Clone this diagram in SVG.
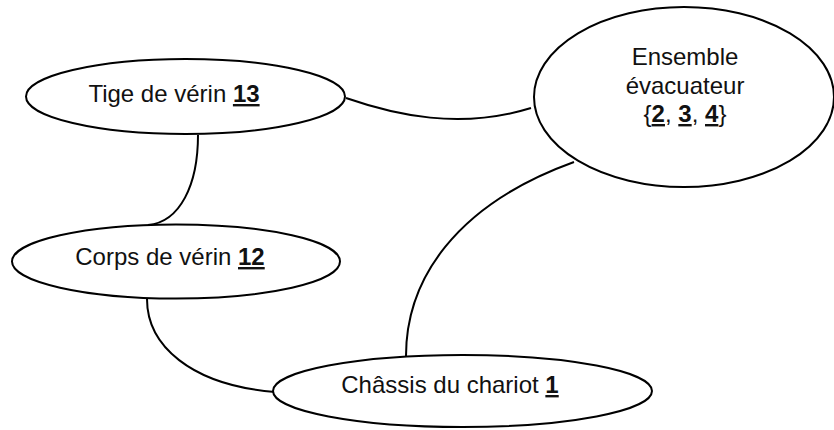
<svg xmlns="http://www.w3.org/2000/svg" width="834" height="430" viewBox="0 0 834 430">
<style>
.node ellipse{fill:#fff;stroke:#000;stroke-width:2}
.edges path{fill:none;stroke:#000;stroke-width:2}
text{font-family:"Liberation Sans",Arial,Helvetica,sans-serif;font-size:24px;fill:#111;text-anchor:middle}
.n{font-weight:bold;text-decoration:underline}
</style>
<rect width="834" height="430" fill="#fff"/>
<g class="edges" id="connectors">
<path d="M346,98 C395,115 460,130 531,108"/>
<path d="M198,135 C198,185 180,222 148,225"/>
<path d="M147,299 C147,345 190,385 275,392"/>
<path d="M406,356 C406,280 455,205 574,162"/>
</g>
<g class="node" id="tige">
<ellipse cx="185.5" cy="96.5" rx="159.5" ry="37.5"/>
<text x="174" y="102">Tige de vérin <tspan class="n">13</tspan></text>
</g>
<g class="node" id="corps">
<ellipse cx="176" cy="261.5" rx="164" ry="37"/>
<text x="170" y="265">Corps de vérin <tspan class="n">12</tspan></text>
</g>
<g class="node" id="chassis">
<ellipse cx="462.5" cy="391" rx="189.5" ry="36"/>
<text x="450" y="393">Châssis du chariot <tspan class="n">1</tspan></text>
</g>
<g class="node" id="ensemble">
<ellipse cx="684" cy="97" rx="150" ry="90"/>
<text x="685" y="65">Ensemble</text>
<text x="685" y="94">évacuateur</text>
<text x="685" y="122">{<tspan class="n">2</tspan>, <tspan class="n">3</tspan>, <tspan class="n">4</tspan>}</text>
</g>
</svg>
